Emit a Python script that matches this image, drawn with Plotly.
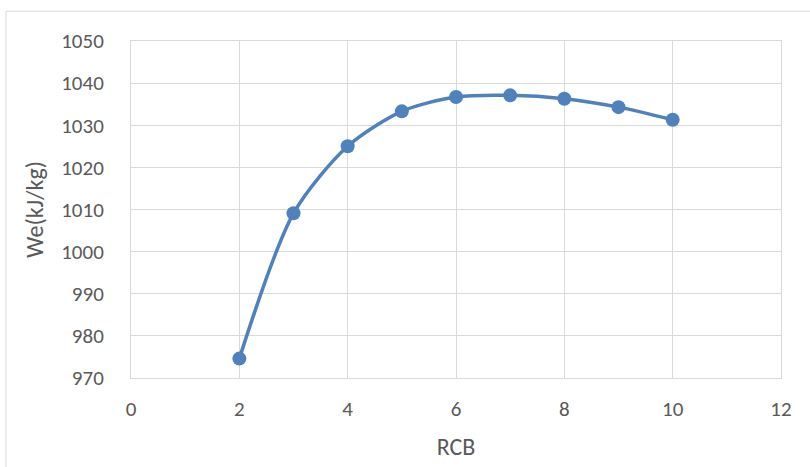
import plotly.graph_objects as go

# Specific net work vs. compressor pressure ratio
rcb = [2, 3, 4, 5, 6, 7, 8, 9, 10]
we_kj_kg = [974.6, 1009.1, 1025.0, 1033.3, 1036.7, 1037.1, 1036.3, 1034.3, 1031.3]

x_ticks = [0, 2, 4, 6, 8, 10, 12]
y_ticks = [970, 980, 990, 1000, 1010, 1020, 1030, 1040, 1050]

W, H = 810, 467
L, R, T, B = 131, 29, 41, 87

FONT = "Carlito, Lato, sans-serif"
TXT = "#595959"
GRID = "#d9d9d9"
BLUE = "#4f81bd"

fig = go.Figure()
fig.add_trace(go.Scatter(
    x=rcb, y=we_kj_kg,
    mode="lines+markers",
    line=dict(color=BLUE, width=3.5, shape="spline", smoothing=0.8),
    marker=dict(color=BLUE, size=14),
    showlegend=False,
))

pw, ph = W - L - R, H - T - B
# outer chart frame (top and left edges visible)
fig.add_shape(
    type="rect", xref="paper", yref="paper",
    x0=(6 - L) / pw, x1=(W + 20 - L) / pw,
    y0=-(H + 20 - (H - B)) / ph, y1=(H - B - 11) / ph,
    line=dict(color=GRID, width=1), fillcolor="rgba(0,0,0,0)", layer="below",
)

fig.update_layout(
    width=W, height=H,
    margin=dict(l=L, r=R, t=T, b=B),
    paper_bgcolor="white", plot_bgcolor="white",
    font=dict(family=FONT, size=21, color=TXT),
    xaxis=dict(
        range=[0, 12], tickvals=x_ticks, ticktext=[str(v) for v in x_ticks],
        showgrid=True, gridcolor=GRID, gridwidth=1,
        showline=True, linecolor=GRID, mirror=True, zeroline=False,
        ticks="", ticklabelstandoff=12,
        title=dict(text="RCB", font=dict(size=24, color=TXT), standoff=16),
    ),
    yaxis=dict(
        range=[970, 1050], tickvals=y_ticks, ticktext=[str(v) for v in y_ticks],
        showgrid=True, gridcolor=GRID, gridwidth=1,
        showline=True, linecolor=GRID, mirror=True, zeroline=False,
        ticks="", ticklabelstandoff=22,
        title=dict(text="We(kJ/kg)", font=dict(size=24, color=TXT), standoff=10),
    ),
)

fig.write_html("out.html")
